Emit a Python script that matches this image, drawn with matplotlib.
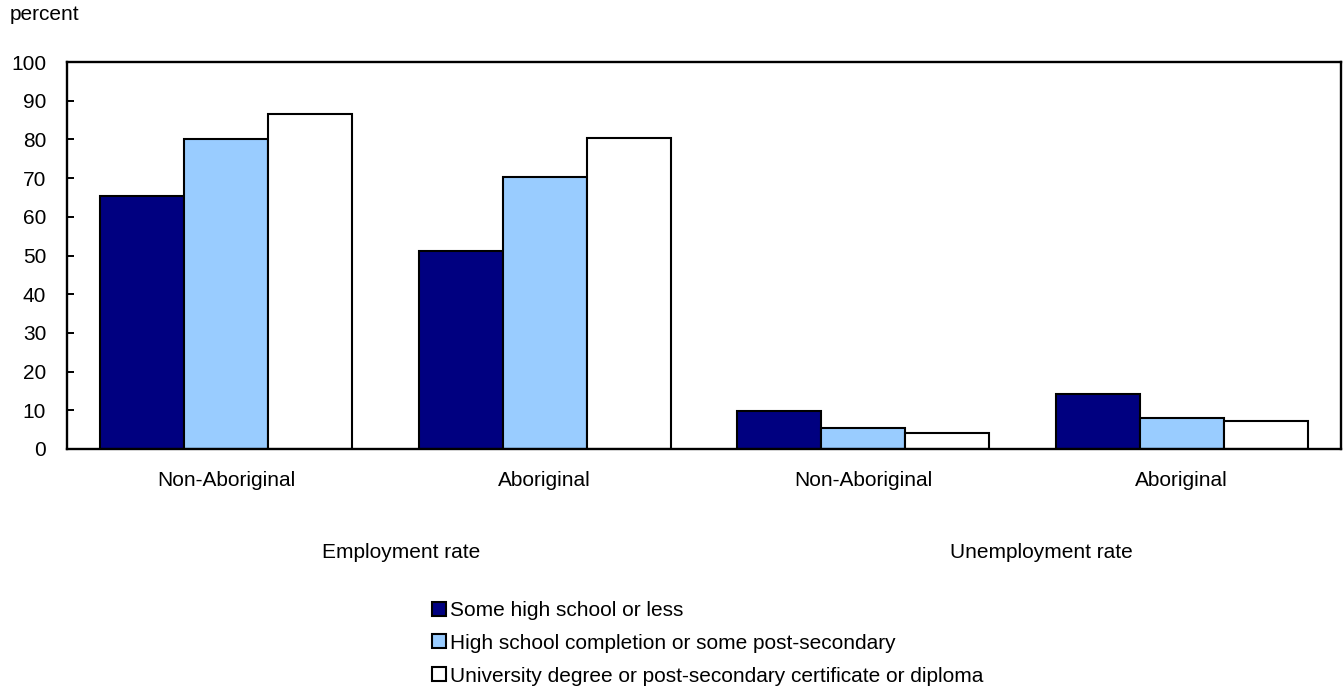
import matplotlib
matplotlib.use("Agg")
import matplotlib.pyplot as plt
import numpy as np

plt.rcParams['font.family'] = ['Liberation Sans', 'DejaVu Sans']

# Data
groups = ["Non-Aboriginal", "Aboriginal", "Non-Aboriginal", "Aboriginal"]
rate_labels = ["Employment rate", "Unemployment rate"]
series_names = [
    "Some high school or less",
    "High school completion or some post-secondary",
    "University degree or post-secondary certificate or diploma",
]
some_high_school = [65.5, 51.2, 9.8, 14.2]
high_school_completion = [80.0, 70.4, 5.3, 7.9]
university_degree = [86.6, 80.3, 4.2, 7.2]
y_ticks = list(range(0, 101, 10))

series = [some_high_school, high_school_completion, university_degree]
colors = ["#000080", "#99CCFF", "#FFFFFF"]
FS = 15

fig = plt.figure(figsize=(13.43, 6.89), dpi=100)
ax = fig.add_axes([67 / 1343, 1 - 449 / 689, (1341 - 67) / 1343, (449 - 62) / 689])

x = np.arange(len(groups))
width = 0.264
handles = []
for i, (vals, col, name) in enumerate(zip(series, colors, series_names)):
    b = ax.bar(x + (i - 1) * width, vals, width, color=col, edgecolor="black",
               linewidth=1.5, label=name)
    handles.append(b)

ax.set_xlim(-0.5, len(groups) - 0.5)
ax.set_ylim(0, 100)
ax.set_yticks(y_ticks)
ax.set_yticklabels([str(t) for t in y_ticks])
ax.tick_params(axis="y", direction="in", length=5, width=1.4, pad=15,
               labelsize=FS, colors="black")
ax.set_xticks(x)
ax.set_xticklabels(groups)
ax.tick_params(axis="x", length=0, pad=16, labelsize=FS)
for s in ax.spines.values():
    s.set_linewidth(1.7)
    s.set_color("black")

# Rate group labels below the category labels
ax.text(0.55, -0.268, rate_labels[0], transform=ax.get_xaxis_transform(),
        ha="center", va="center", fontsize=FS)
ax.text(2.56, -0.268, rate_labels[1], transform=ax.get_xaxis_transform(),
        ha="center", va="center", fontsize=FS)

fig.text(10 / 1343, 1 - 15 / 689, "percent", ha="left", va="center", fontsize=FS)

fig.legend(handles=handles, labels=series_names, loc="upper left",
           bbox_to_anchor=(432 / 1343, 1 - 601 / 689), frameon=False,
           fontsize=FS, handlelength=0.65, handleheight=0.65,
           handletextpad=0.2, labelspacing=0.66, borderpad=0, borderaxespad=0)

fig.savefig("out.png", dpi=100)
